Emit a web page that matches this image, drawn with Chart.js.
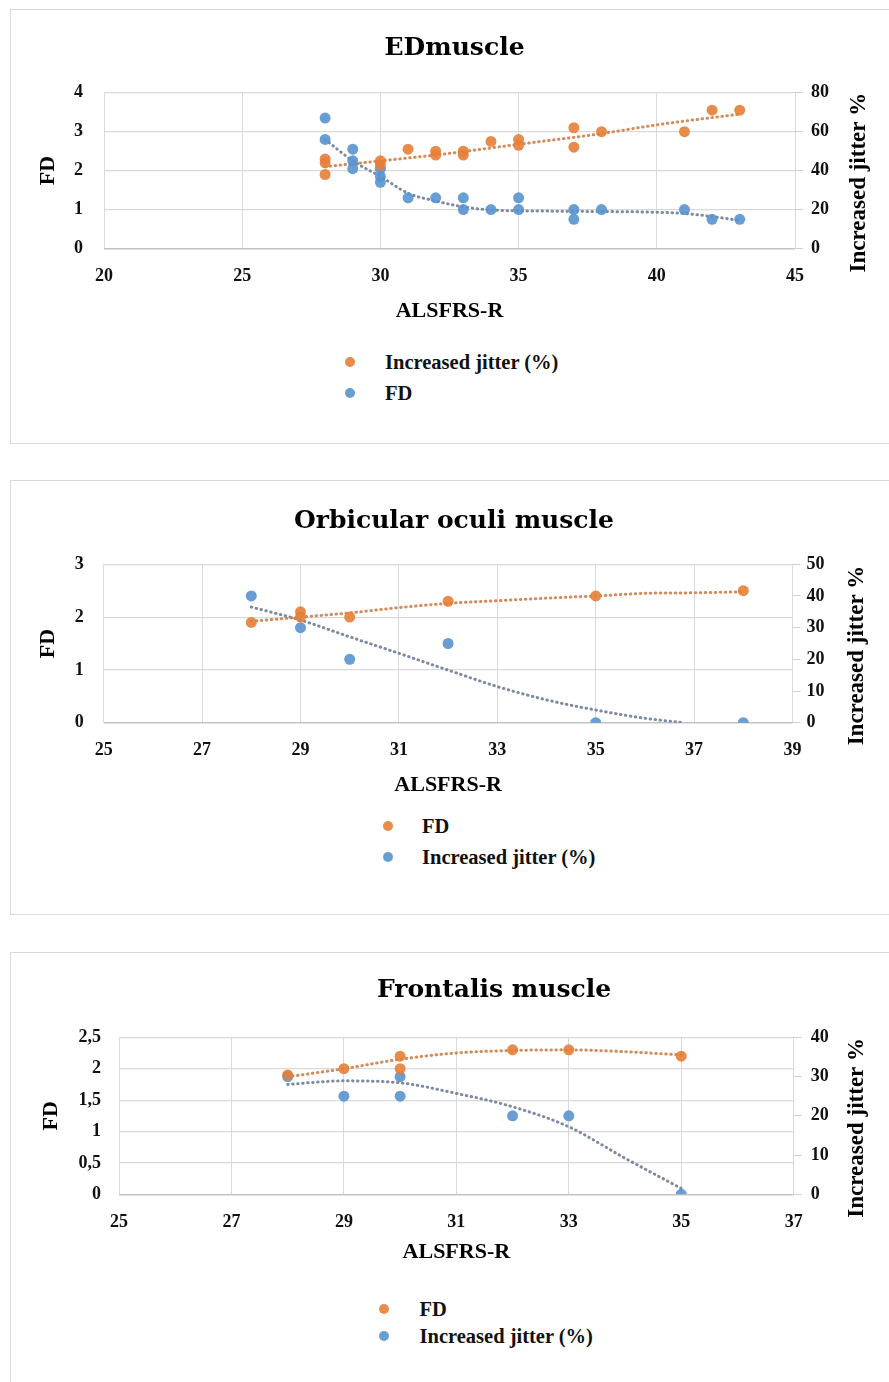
<!DOCTYPE html>
<html>
<head>
<meta charset="utf-8">
<script src="https://cdn.jsdelivr.net/npm/chart.js@4/dist/chart.umd.min.js"></script>
<style>
  html, body { margin: 0; padding: 0; background: #fff; overflow: hidden; }
  body { width: 889px; height: 1382px; position: relative; }
  .box { position: absolute; left: 10px; width: 900px; height: 433px; border: 1.5px solid #d9d9d9; }
  .wrap { position: absolute; left: 0; width: 889px; height: 330px; }
  .dot { position: absolute; width: 10px; height: 10px; border-radius: 50%; }
  .lbl { position: absolute; font: bold 20.5px "Liberation Serif", serif; line-height: 24px; color: #111; white-space: pre; }
</style>
</head>
<body>

<div class="box" style="top:9px"></div>
<div class="box" style="top:480px"></div>
<div class="box" style="top:952px"></div>

<div class="wrap" style="top:9px"><canvas id="ed"></canvas></div>
<div class="wrap" style="top:480px"><canvas id="oo"></canvas></div>
<div class="wrap" style="top:952px"><canvas id="fr"></canvas></div>

<script>
// ---- EDmuscle ----
var edXTicks = [20, 45, 5];
var edFdTicks = [0, 4, 1];
var edJitTicks = [0, 80, 20];
var edJitterX = [28, 28, 28, 30, 30, 31, 32, 32, 33, 33, 34, 35, 35, 37, 37, 38, 41, 42, 43];
var edJitter  = [46, 44, 38, 45, 43, 51, 50, 48, 50, 48, 55, 56, 53, 62, 52, 60, 60, 71, 71];
var edFdX = [28, 28, 29, 29, 29, 30, 30, 30, 31, 32, 33, 33, 34, 35, 35, 37, 37, 38, 41, 42, 43];
var edFd  = [3.35, 2.8, 2.55, 2.25, 2.05, 2.05, 1.85, 1.7, 1.3, 1.3, 1.3, 1.0, 1.0, 1.3, 1.0, 1.0, 0.75, 1.0, 1.0, 0.75, 0.75];
var edJitterTrendX = [28, 30, 32, 35, 38, 40, 43];
var edJitterTrend  = [42, 45, 48, 53.5, 59, 63.5, 69];
var edFdTrendX = [28, 29, 30, 31, 32, 33, 34, 36, 38, 40, 41, 42, 43];
var edFdTrend  = [2.8, 2.25, 1.85, 1.42, 1.22, 1.07, 0.99, 0.96, 0.95, 0.93, 0.9, 0.82, 0.72];

// ---- Orbicular oculi muscle ----
var ooXTicks = [25, 39, 2];
var ooFdTicks = [0, 3, 1];
var ooJitTicks = [0, 50, 10];
var ooFdX = [28, 29, 29, 30, 32, 35, 38];
var ooFd  = [1.9, 2.1, 2.0, 2.0, 2.3, 2.4, 2.5];
var ooJitterX = [28, 29, 30, 32, 35, 38];
var ooJitter  = [40, 30, 20, 25, 0, 0];
var ooFdTrendX = [28, 29, 30, 31, 32, 33, 34, 35, 36, 37, 38];
var ooFdTrend  = [1.92, 2.0, 2.08, 2.18, 2.26, 2.31, 2.36, 2.4, 2.45, 2.46, 2.48];
var ooJitterTrendX = [28, 29, 30, 31, 32, 33, 34, 35, 36, 36.8];
var ooJitterTrend  = [36.5, 32.4, 27.1, 21.9, 16.6, 11.4, 7.2, 4.0, 1.4, 0];

// ---- Frontalis muscle ----
var frXTicks = [25, 37, 2];
var frFdTicks = [0, 2.5, 0.5];
var frJitTicks = [0, 40, 10];
var frFdX = [28, 29, 30, 30, 32, 33, 35];
var frFd  = [1.9, 2.0, 2.2, 2.0, 2.3, 2.3, 2.2];
var frJitterX = [28, 29, 30, 30, 32, 33, 35];
var frJitter  = [30, 25, 30, 25, 20, 20, 0];
var frFdTrendX = [28, 29, 30, 31, 32, 33, 34, 35];
var frFdTrend  = [1.87, 2.0, 2.15, 2.25, 2.29, 2.3, 2.27, 2.22];
var frJitterTrendX = [28, 29, 30, 31, 32, 33, 34, 35];
var frJitterTrend  = [28, 28.9, 28.4, 25.7, 22.3, 17.2, 9.2, 1.5];

var ORANGE = 'rgba(229,128,56,0.9)';
var BLUE = 'rgba(88,148,206,0.9)';
var ORANGE_TREND = 'rgba(210,132,80,0.95)';
var BLUE_TREND = 'rgba(118,132,156,0.95)';
var serif = '"Liberation Serif", serif';

function pts(xs, ys) {
  return xs.map(function(x, i) { return {x: x, y: ys[i]}; });
}

function dots(label, xs, ys, color, axis) {
  return { label: label, data: pts(xs, ys), yAxisID: axis, backgroundColor: color, borderWidth: 0,
           pointRadius: 5.5, order: 0 };
}

function trend(xs, ys, color, axis) {
  return { label: '', trend: true, data: pts(xs, ys), yAxisID: axis, showLine: true, borderColor: color,
           borderWidth: 3, borderDash: [0.5, 4.5], borderCapStyle: 'round', pointRadius: 0,
           cubicInterpolationMode: 'monotone', fill: false, order: 1 };
}

// draws the right axis title reading bottom to top
var rightTitle = {
  id: 'rightTitle',
  afterDraw: function(chart, args, opts) {
    var ctx = chart.ctx, a = chart.chartArea;
    ctx.save();
    ctx.translate(a.right + opts.dx, (a.top + a.bottom) / 2 + opts.dy);
    ctx.rotate(-Math.PI / 2);
    ctx.font = 'bold 23px ' + serif;
    ctx.fillStyle = '#000';
    ctx.textAlign = 'center';
    ctx.textBaseline = 'middle';
    ctx.fillText(opts.text, 0, 0);
    ctx.restore();
  }
};

function comma(v) { return String(v).replace('.', ','); }

function makePanel(c) {
  var tickFont = { family: serif, size: 18, weight: 'bold' };
  var titleFont = { family: serif, size: 22, weight: 'bold' };
  var chart = new Chart(document.getElementById(c.id), {
    type: 'scatter',
    data: { datasets: c.datasets },
    plugins: [rightTitle],
    options: {
      responsive: true,
      maintainAspectRatio: false,
      animation: false,
      devicePixelRatio: 1,
      events: [],
      layout: { padding: { left: c.padLeft, right: c.padRight, top: 0, bottom: 0 } },
      plugins: {
        legend: { display: false },
        tooltip: { enabled: false },
        title: { display: true, text: c.title, color: '#000',
                 font: { family: '"DejaVu Serif", serif', size: 25, weight: 'bold' },
                 padding: { top: c.titleTop, bottom: c.titleBottom } },
        rightTitle: { text: 'Increased jitter %', dx: c.rtDx, dy: 12 }
      },
      scales: {
        x: {
          type: 'linear', position: 'bottom',
          min: c.xTicks[0], max: c.xTicks[1],
          ticks: { stepSize: c.xTicks[2], padding: 17, font: tickFont, color: '#111', maxRotation: 0 },
          grid: { color: '#d9d9d9', drawTicks: false },
          border: { display: false },
          title: { display: true, text: 'ALSFRS-R', color: '#000', font: titleFont,
                   padding: { top: 0, bottom: c.xTitleBottom } },
          afterFit: function(s) { s.height = c.xHeight; }
        },
        y: {
          position: 'left',
          min: c.fdTicks[0], max: c.fdTicks[1],
          ticks: { stepSize: c.fdTicks[2], padding: c.yPad, font: tickFont, color: '#111', callback: comma },
          grid: { drawTicks: false,
                  color: function(ctx) { return ctx.tick && ctx.tick.value === 0 ? '#c4c4c4' : '#d9d9d9'; },
                  lineWidth: function(ctx) { return ctx.tick && ctx.tick.value === 0 ? 1.6 : 1.2; } },
          border: { display: false },
          title: { display: true, text: 'FD', color: '#000', font: titleFont,
                   padding: { top: c.yTitleTop, bottom: 0 } },
          afterFit: function(s) { s.width = c.yWidth; }
        },
        y2: {
          position: 'right',
          min: c.jitTicks[0], max: c.jitTicks[1],
          ticks: { stepSize: c.jitTicks[2], padding: c.y2Pad, font: tickFont, color: '#111' },
          grid: { drawOnChartArea: false, drawTicks: true, tickLength: 8, color: '#cfcfcf' },
          border: { display: false },
          afterFit: function(s) { s.width = c.y2Width; }
        }
      }
    }
  });

  // legend built from the marker datasets
  var rows = chart.data.datasets.filter(function(d) { return !d.trend; });
  rows.forEach(function(d, i) {
    var y = c.legendY[i];
    var dot = document.createElement('div');
    dot.className = 'dot';
    dot.style.left = (c.legendDotX - 5) + 'px';
    dot.style.top = (y - 5) + 'px';
    dot.style.background = d.backgroundColor;
    document.body.appendChild(dot);
    var t = document.createElement('div');
    t.className = 'lbl';
    t.style.left = c.legendTextX + 'px';
    t.style.top = (y - 12) + 'px';
    t.textContent = d.label;
    document.body.appendChild(t);
  });
  return chart;
}

makePanel({
  id: 'ed', title: 'EDmuscle',
  xTicks: edXTicks, fdTicks: edFdTicks, jitTicks: edJitTicks,
  datasets: [
    dots('Increased jitter (%)', edJitterX, edJitter, ORANGE, 'y2'),
    dots('FD', edFdX, edFd, BLUE, 'y'),
    trend(edJitterTrendX, edJitterTrend, ORANGE_TREND, 'y2'),
    trend(edFdTrendX, edFdTrend, BLUE_TREND, 'y')
  ],
  padLeft: 20, padRight: 0, yWidth: 84, yPad: 21, yTitleTop: 15, y2Width: 94, y2Pad: 8, rtDx: 64,
  titleTop: 24, titleBottom: 29.7, xHeight: 90.5, xTitleBottom: 14.8,
  legendY: [361.7, 393], legendDotX: 350, legendTextX: 385
});

makePanel({
  id: 'oo', title: 'Orbicular oculi muscle',
  xTicks: ooXTicks, fdTicks: ooFdTicks, jitTicks: ooJitTicks,
  datasets: [
    dots('FD', ooFdX, ooFd, ORANGE, 'y'),
    dots('Increased jitter (%)', ooJitterX, ooJitter, BLUE, 'y2'),
    trend(ooFdTrendX, ooFdTrend, ORANGE_TREND, 'y'),
    trend(ooJitterTrendX, ooJitterTrend, BLUE_TREND, 'y2')
  ],
  padLeft: 19, padRight: 0, yWidth: 84.7, yPad: 20, yTitleTop: 16, y2Width: 96.5, y2Pad: 6, rtDx: 64.5,
  titleTop: 26, titleBottom: 28.3, xHeight: 87.3, xTitleBottom: 11.8,
  legendY: [826, 857], legendDotX: 388, legendTextX: 422
});

// title here sits right of centre, so the layout box is widened on the right
makePanel({
  id: 'fr', title: 'Frontalis muscle',
  xTicks: frXTicks, fdTicks: frFdTicks, jitTicks: frJitTicks,
  datasets: [
    dots('FD', frFdX, frFd, ORANGE, 'y'),
    dots('Increased jitter (%)', frJitterX, frJitter, BLUE, 'y2'),
    trend(frFdTrendX, frFdTrend, ORANGE_TREND, 'y'),
    trend(frJitterTrendX, frJitterTrend, BLUE_TREND, 'y2')
  ],
  padLeft: 20, padRight: -79, yWidth: 99, yPad: 18, yTitleTop: 18, y2Width: 174.3, y2Pad: 9, rtDx: 63,
  titleTop: 23, titleBottom: 32.3, xHeight: 87.7, xTitleBottom: 16.8,
  legendY: [1309.3, 1335.7], legendDotX: 384, legendTextX: 419.5
});
</script>
</body>
</html>
